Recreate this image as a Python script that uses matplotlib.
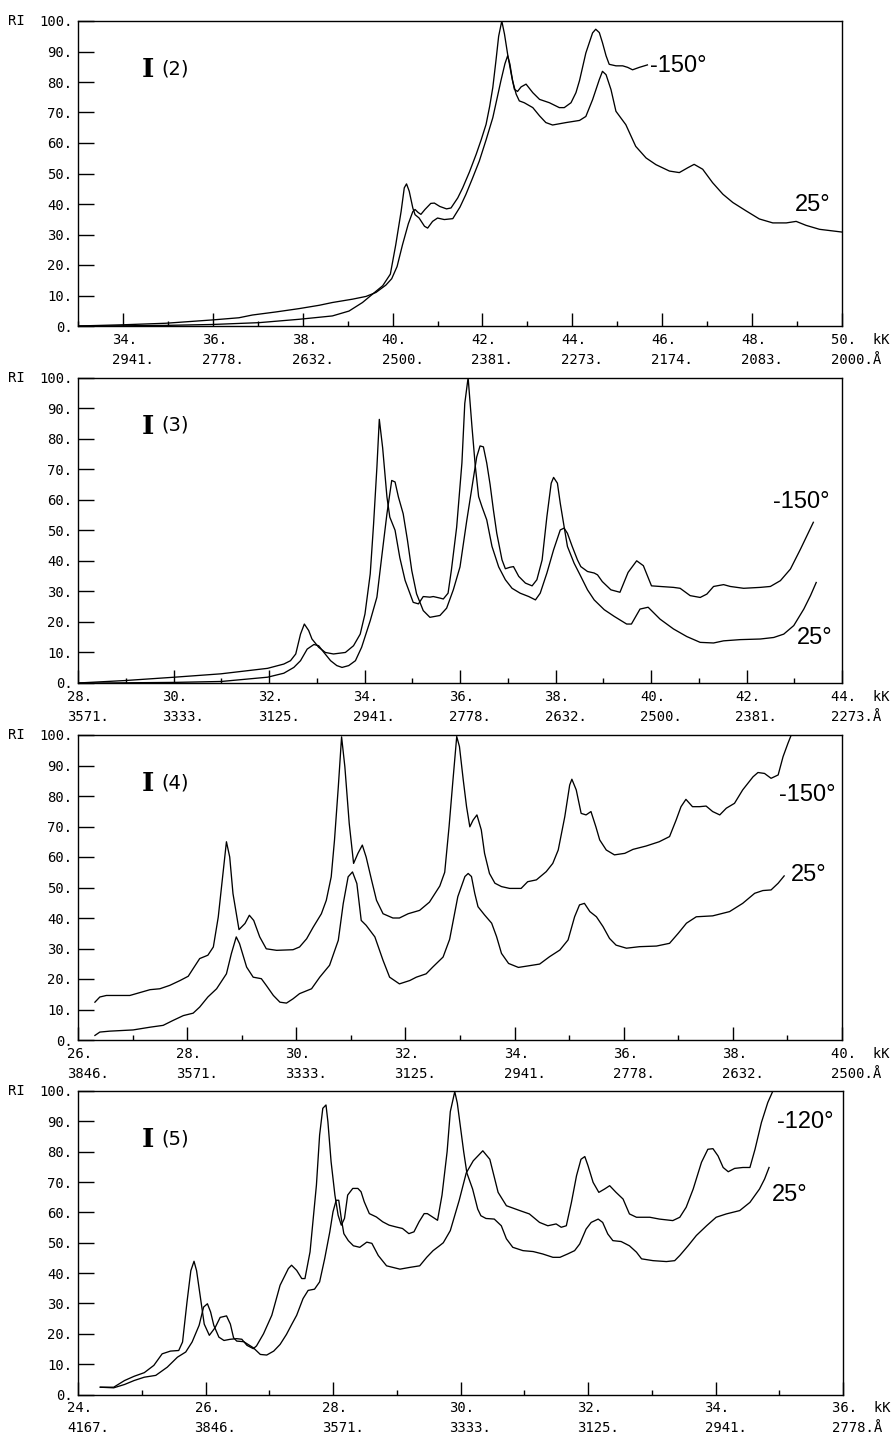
import matplotlib
matplotlib.use("Agg")
import matplotlib.pyplot as plt
import matplotlib.transforms as mtransforms

# ---- panel I(2) ----
p2_x_cold = [33.0, 34.0, 34.95, 36.0, 36.58, 36.88, 37.4, 37.92, 38.37, 38.66, 39.11, 39.41, 39.63, 39.85,
             39.98, 40.1, 40.22, 40.35, 40.45, 40.5, 40.57, 40.63, 40.72, 40.85, 40.93, 41.05, 41.2, 41.3,
             41.45, 41.56, 41.71, 41.86, 41.97, 42.08, 42.16, 42.23, 42.3, 42.36, 42.43, 42.49, 42.56, 42.64,
             42.71, 42.78, 42.86, 42.97, 43.12, 43.27, 43.49, 43.71, 43.82, 43.97, 44.08, 44.16, 44.3, 44.45,
             44.52, 44.6, 44.67, 44.75, 44.82, 44.97, 45.12, 45.23, 45.34, 45.49, 45.67]
p2_y_cold = [0.0, 0.4, 0.9, 2.0, 2.7, 3.6, 4.6, 5.7, 6.8, 7.7, 8.8, 9.7, 11.0, 13.4,
             15.5, 19.5, 26.6, 33.5, 37.5, 38.2, 37.2, 36.6, 38.2, 40.2, 40.3, 39.2, 38.4, 38.7,
             42.0, 45.3, 50.5, 56.3, 61.0, 66.1, 72.0, 78.2, 87.0, 95.0, 100.0, 95.7, 89.1, 82.6,
             77.6, 76.9, 78.4, 79.3, 76.5, 74.3, 73.2, 71.6, 71.6, 73.2, 76.5, 80.5, 89.5, 96.1,
             97.3, 96.2, 92.9, 88.6, 85.8, 85.3, 85.3, 84.8, 84.0, 84.8, 85.6]
p2_x_warm = [33.0, 33.47, 34.95, 35.99, 37.03, 37.92, 38.66, 39.03, 39.33, 39.55, 39.78, 39.95, 40.07, 40.19,
             40.26, 40.31, 40.37, 40.45, 40.5, 40.59, 40.71, 40.78, 40.89, 41.0, 41.15, 41.34, 41.5, 41.63,
             41.78, 41.93, 42.08, 42.23, 42.33, 42.41, 42.5, 42.56, 42.61, 42.67, 42.75, 42.82, 42.93, 43.12,
             43.27, 43.41, 43.56, 43.86, 44.16, 44.3, 44.45, 44.6, 44.67, 44.75, 44.86, 44.97, 45.19, 45.41,
             45.64, 45.86, 46.16, 46.38, 46.57, 46.71, 46.9, 47.12, 47.35, 47.57, 47.86, 48.16, 48.46, 48.76,
             48.98, 49.2, 49.5, 50.0]
p2_y_warm = [0.0, 0.0, 0.2, 0.5, 1.1, 2.2, 3.3, 4.9, 7.7, 10.4, 13.2, 17.0, 26.6, 37.6,
             45.3, 46.6, 44.2, 38.7, 36.5, 35.4, 32.7, 32.1, 34.3, 35.4, 34.9, 35.2, 39.0, 43.1,
             48.5, 54.1, 61.0, 68.3, 75.0, 80.4, 86.0, 88.6, 85.9, 80.4, 76.0, 73.8, 73.2, 71.6,
             68.9, 66.7, 65.9, 66.7, 67.4, 68.7, 74.2, 80.8, 83.5, 82.4, 77.5, 70.4, 66.0, 58.9,
             55.1, 52.9, 50.8, 50.3, 51.9, 53.0, 51.4, 47.0, 43.2, 40.5, 37.8, 35.1, 33.8, 33.8,
             34.3, 33.0, 31.7, 30.8]
p2_kk = [34, 36, 38, 40, 42, 44, 46, 48, 50]
p2_ang = ['2941.', '2778.', '2632.', '2500.', '2381.', '2273.', '2174.', '2083.', '2000.']

# ---- panel I(3) ----
p3_x_cold = [28.0, 28.98, 30.02, 30.99, 31.97, 32.31, 32.45, 32.56, 32.66, 32.74, 32.83, 32.9, 33.04, 33.18,
             33.35, 33.6, 33.77, 33.91, 34.01, 34.12, 34.19, 34.26, 34.31, 34.38, 34.47, 34.53, 34.64, 34.74,
             34.85, 35.02, 35.13, 35.23, 35.37, 35.44, 35.58, 35.65, 35.75, 35.82, 35.93, 36.04, 36.1, 36.17,
             36.25, 36.32, 36.39, 36.46, 36.56, 36.67, 36.81, 36.95, 37.09, 37.26, 37.44, 37.58, 37.68, 37.82,
             37.96, 38.1, 38.18, 38.25, 38.35, 38.46, 38.53, 38.67, 38.81, 38.88, 38.98, 39.16, 39.35, 39.52,
             39.7, 39.84, 40.01, 40.19, 40.47, 40.61, 40.82, 41.03, 41.17, 41.31, 41.52, 41.66, 41.94, 42.29,
             42.5, 42.71, 42.92, 43.13, 43.4]
p3_y_cold = [0.0, 0.8, 1.9, 3.0, 4.8, 6.2, 7.3, 9.5, 16.0, 19.3, 17.2, 14.4, 11.7, 10.0,
             9.5, 10.0, 12.2, 16.0, 22.6, 35.7, 52.0, 70.7, 86.3, 77.0, 60.9, 54.3, 50.0, 41.0,
             33.6, 26.4, 25.9, 28.3, 28.1, 28.3, 27.8, 27.5, 29.4, 37.0, 51.0, 72.0, 91.5, 100.0,
             84.0, 71.0, 61.0, 57.7, 53.4, 44.7, 38.0, 33.8, 31.0, 29.4, 28.3, 27.2, 29.4, 36.0,
             43.6, 50.1, 50.7, 49.0, 44.7, 40.3, 38.1, 36.5, 36.0, 35.4, 33.2, 30.5, 29.7, 36.2,
             40.0, 38.4, 31.8, 31.6, 31.3, 31.0, 28.6, 28.0, 29.1, 31.6, 32.2, 31.6, 31.0, 31.3,
             31.6, 33.5, 37.3, 43.8, 52.6]
p3_x_warm = [28.0, 28.49, 30.02, 31.0, 31.97, 32.31, 32.52, 32.66, 32.8, 32.94, 33.04, 33.15, 33.29, 33.42,
             33.53, 33.67, 33.81, 33.94, 34.12, 34.26, 34.36, 34.47, 34.57, 34.64, 34.71, 34.81, 34.9, 34.99,
             35.09, 35.23, 35.37, 35.58, 35.72, 35.86, 36.0, 36.14, 36.25, 36.35, 36.42, 36.49, 36.56, 36.63,
             36.7, 36.77, 36.88, 36.95, 37.05, 37.12, 37.23, 37.37, 37.51, 37.61, 37.72, 37.82, 37.91, 37.96,
             38.04, 38.1, 38.18, 38.25, 38.39, 38.53, 38.67, 38.81, 39.02, 39.23, 39.49, 39.59, 39.77, 39.94,
             40.19, 40.47, 40.75, 41.03, 41.31, 41.52, 41.87, 42.29, 42.57, 42.78, 42.99, 43.2, 43.34, 43.46]
p3_y_warm = [0.0, 0.0, 0.2, 0.5, 1.9, 3.2, 5.1, 7.3, 11.1, 12.6, 12.2, 10.0, 7.3, 5.7,
             5.1, 5.7, 7.3, 11.7, 20.4, 28.1, 41.2, 55.4, 66.3, 65.8, 60.9, 55.4, 46.7, 36.8,
             29.2, 23.7, 21.5, 22.1, 24.5, 30.5, 38.0, 53.0, 64.0, 74.0, 77.6, 77.3, 72.0, 65.0,
             56.6, 49.0, 40.3, 37.4, 37.9, 38.1, 34.9, 32.7, 31.8, 33.8, 40.3, 54.5, 65.4, 67.3,
             65.4, 58.8, 51.2, 44.7, 39.2, 34.9, 30.5, 27.2, 24.0, 21.8, 19.3, 19.3, 24.2, 24.8,
             20.9, 17.7, 15.2, 13.3, 13.1, 13.8, 14.2, 14.4, 14.9, 16.0, 18.8, 24.2, 28.6, 32.9]
p3_kk = [28, 30, 32, 34, 36, 38, 40, 42, 44]
p3_ang = ['3571.', '3333.', '3125.', '2941.', '2778.', '2632.', '2500.', '2381.', '2273.']

# ---- panel I(4) ----
p4_x_cold = [26.31, 26.4, 26.52, 26.95, 27.32, 27.5, 27.68, 27.87, 28.02, 28.11, 28.23, 28.38, 28.48, 28.57,
             28.65, 28.72, 28.78, 28.84, 28.95, 29.06, 29.14, 29.22, 29.33, 29.45, 29.64, 29.94, 30.06, 30.19,
             30.31, 30.46, 30.55, 30.64, 30.7, 30.77, 30.83, 30.89, 30.97, 31.05, 31.13, 31.21, 31.28, 31.38,
             31.47, 31.59, 31.77, 31.89, 32.05, 32.26, 32.44, 32.63, 32.72, 32.8, 32.87, 32.94, 32.99, 33.06,
             33.12, 33.18, 33.24, 33.31, 33.39, 33.45, 33.54, 33.64, 33.76, 33.91, 34.12, 34.24, 34.4, 34.58,
             34.7, 34.8, 34.92, 35.01, 35.05, 35.13, 35.22, 35.31, 35.4, 35.49, 35.56, 35.68, 35.83, 36.02,
             36.17, 36.41, 36.65, 36.84, 36.96, 37.05, 37.14, 37.26, 37.39, 37.51, 37.63, 37.76, 37.88, 38.03,
             38.18, 38.37, 38.46, 38.58, 38.7, 38.83, 38.92, 39.01, 39.07]
p4_y_cold = [12.4, 14.1, 14.6, 14.6, 16.5, 16.8, 17.9, 19.5, 20.9, 23.4, 26.7, 27.8, 30.5, 40.3,
             53.5, 65.0, 60.0, 48.0, 36.2, 38.2, 40.9, 39.2, 33.8, 29.9, 29.4, 29.6, 30.5, 33.2,
             37.0, 41.4, 45.8, 53.5, 65.5, 83.0, 99.4, 89.6, 71.0, 57.9, 61.2, 63.9, 60.0, 52.4,
             45.8, 41.4, 40.0, 40.0, 41.4, 42.5, 45.2, 50.5, 55.0, 70.0, 85.0, 99.5, 96.2, 85.2,
             76.5, 69.9, 72.1, 73.8, 68.9, 61.2, 54.6, 51.4, 50.3, 49.7, 49.7, 51.9, 52.5, 55.2,
             57.9, 62.3, 73.2, 83.6, 85.5, 82.0, 74.3, 73.8, 74.9, 69.9, 65.6, 62.3, 60.7, 61.2,
             62.5, 63.6, 65.0, 66.7, 72.1, 76.5, 78.9, 76.5, 76.5, 76.7, 74.9, 73.8, 76.0, 77.6,
             82.0, 86.3, 87.7, 87.4, 85.8, 86.9, 92.9, 97.3, 100.0]
p4_x_warm = [26.31, 26.4, 26.58, 27.01, 27.32, 27.56, 27.74, 27.93, 28.11, 28.23, 28.38, 28.54, 28.72, 28.81,
             28.9, 28.96, 29.09, 29.21, 29.36, 29.45, 29.58, 29.7, 29.82, 29.94, 30.06, 30.28, 30.43, 30.61,
             30.77, 30.86, 30.95, 31.03, 31.11, 31.19, 31.28, 31.44, 31.59, 31.71, 31.89, 32.08, 32.2, 32.38,
             32.5, 32.69, 32.81, 32.96, 33.09, 33.15, 33.21, 33.27, 33.33, 33.45, 33.58, 33.67, 33.76, 33.89,
             34.07, 34.25, 34.46, 34.64, 34.83, 34.98, 35.1, 35.19, 35.28, 35.38, 35.5, 35.62, 35.74, 35.86,
             36.05, 36.29, 36.6, 36.84, 37.0, 37.15, 37.33, 37.63, 37.94, 38.18, 38.4, 38.55, 38.7, 38.83,
             38.94]
p4_y_warm = [1.5, 2.6, 2.9, 3.3, 4.2, 4.8, 6.4, 8.0, 8.8, 10.8, 14.1, 16.8, 21.7, 28.3,
             33.8, 31.6, 23.9, 20.6, 20.1, 17.9, 14.6, 12.4, 12.1, 13.5, 15.2, 16.8, 20.6, 24.5,
             32.7, 44.7, 53.5, 55.1, 51.3, 39.2, 37.6, 33.8, 26.1, 20.6, 18.4, 19.5, 20.6, 21.7,
             23.9, 27.2, 33.0, 47.0, 53.6, 54.6, 53.6, 48.1, 43.7, 41.0, 38.3, 33.9, 28.4, 25.1,
             23.8, 24.3, 24.9, 27.3, 29.5, 32.8, 40.4, 44.3, 44.8, 42.1, 40.4, 37.2, 33.3, 31.1,
             30.1, 30.6, 30.8, 31.7, 35.0, 38.3, 40.4, 40.7, 42.1, 44.8, 48.1, 49.0, 49.2, 51.4,
             53.8]
p4_kk = [26, 28, 30, 32, 34, 36, 38, 40]
p4_ang = ['3846.', '3571.', '3333.', '3125.', '2941.', '2778.', '2632.', '2500.']

# ---- panel I(5) ----
p5_x_cold = [24.35, 24.56, 24.73, 24.88, 25.04, 25.19, 25.32, 25.45, 25.58, 25.64, 25.71, 25.77, 25.82, 25.86,
             25.92, 25.98, 26.06, 26.15, 26.23, 26.33, 26.39, 26.44, 26.49, 26.6, 26.75, 26.86, 26.96, 27.07,
             27.17, 27.27, 27.35, 27.43, 27.53, 27.61, 27.71, 27.79, 27.87, 27.95, 28.0, 28.05, 28.09, 28.13,
             28.17, 28.24, 28.32, 28.42, 28.53, 28.61, 28.71, 28.84, 29.05, 29.21, 29.36, 29.47, 29.57, 29.67,
             29.73, 29.84, 29.98, 30.09, 30.2, 30.35, 30.46, 30.59, 30.72, 30.93, 31.08, 31.24, 31.37, 31.5,
             31.58, 31.66, 31.74, 31.82, 31.89, 31.95, 32.0, 32.08, 32.17, 32.26, 32.34, 32.44, 32.55, 32.65,
             32.76, 32.97, 33.12, 33.33, 33.44, 33.54, 33.65, 33.78, 33.88, 33.96, 34.04, 34.12, 34.2, 34.3,
             34.43, 34.54, 34.62, 34.72, 34.82, 34.9]
p5_y_cold = [2.4, 2.4, 4.6, 6.0, 7.2, 9.6, 13.4, 14.3, 14.5, 17.3, 30.5, 40.8, 43.9, 40.8,
             32.0, 23.2, 19.5, 22.0, 25.4, 25.9, 23.2, 18.7, 17.6, 17.4, 15.4, 13.2, 13.0, 14.3,
             16.5, 19.8, 23.0, 26.1, 31.6, 34.3, 34.7, 37.1, 44.8, 53.6, 60.2, 64.0, 64.0, 58.0,
             53.0, 50.7, 49.0, 48.5, 50.2, 49.8, 45.8, 42.4, 41.3, 41.9, 42.4, 45.2, 47.4, 49.0,
             50.0, 54.0, 64.0, 73.0, 77.0, 80.3, 77.5, 66.6, 62.2, 60.6, 59.5, 56.7, 55.6, 56.2,
             55.1, 55.6, 63.3, 72.1, 77.5, 78.4, 75.4, 69.9, 66.6, 67.7, 68.8, 66.6, 64.4, 59.5,
             58.4, 58.4, 57.8, 57.3, 58.4, 61.7, 67.7, 76.5, 80.8, 81.0, 78.6, 74.8, 73.4, 74.5,
             74.8, 74.8, 80.8, 89.6, 96.2, 100.0]
p5_x_warm = [24.35, 24.56, 24.73, 24.88, 25.04, 25.22, 25.4, 25.56, 25.69, 25.79, 25.9, 25.97, 26.03, 26.08,
             26.13, 26.21, 26.29, 26.39, 26.49, 26.57, 26.65, 26.75, 26.8, 26.91, 27.04, 27.17, 27.3, 27.35,
             27.43, 27.51, 27.56, 27.64, 27.69, 27.74, 27.79, 27.84, 27.89, 27.92, 27.97, 28.03, 28.08, 28.13,
             28.18, 28.23, 28.31, 28.39, 28.44, 28.49, 28.57, 28.68, 28.78, 28.88, 28.99, 29.09, 29.19, 29.27,
             29.35, 29.43, 29.48, 29.56, 29.64, 29.71, 29.79, 29.84, 29.91, 29.95, 30.0, 30.05, 30.1, 30.19,
             30.27, 30.32, 30.4, 30.53, 30.64, 30.72, 30.82, 30.98, 31.14, 31.29, 31.45, 31.56, 31.68, 31.79,
             31.87, 31.97, 32.05, 32.16, 32.23, 32.31, 32.39, 32.52, 32.65, 32.76, 32.84, 33.02, 33.23, 33.36,
             33.44, 33.57, 33.7, 33.86, 34.01, 34.17, 34.38, 34.54, 34.69, 34.77, 34.84]
p5_y_warm = [2.4, 2.2, 3.3, 4.6, 5.7, 6.3, 9.0, 12.3, 14.0, 17.3, 22.8, 28.8, 29.9, 27.2,
             22.8, 18.9, 17.8, 18.2, 18.4, 18.2, 16.2, 15.1, 16.0, 20.0, 26.1, 36.0, 41.5, 42.6,
             40.9, 38.2, 38.2, 47.0, 58.0, 69.0, 85.5, 94.3, 95.4, 89.9, 76.7, 65.7, 59.1, 55.8,
             58.0, 65.7, 67.9, 67.9, 66.8, 63.5, 59.6, 58.5, 56.9, 55.8, 55.2, 54.7, 53.0, 53.6,
             56.9, 59.6, 59.6, 58.5, 57.4, 65.7, 80.0, 93.2, 99.8, 96.0, 88.0, 80.0, 73.0, 67.7,
             61.1, 58.9, 58.0, 57.8, 55.6, 51.3, 48.5, 47.4, 47.1, 46.3, 45.2, 45.2, 46.3, 47.4,
             49.6, 54.5, 56.7, 57.8, 56.7, 52.9, 50.7, 50.4, 49.0, 46.9, 44.7, 44.1, 43.8, 44.1,
             45.8, 49.0, 52.4, 55.6, 58.4, 59.5, 60.6, 63.3, 67.7, 71.0, 74.8]
p5_kk = [24, 26, 28, 30, 32, 34, 36]
p5_ang = ['4167.', '3846.', '3571.', '3333.', '3125.', '2941.', '2778.']

ri_ticks = [0, 10, 20, 30, 40, 50, 60, 70, 80, 90, 100]

W, H = 893, 1437
fig = plt.figure(figsize=(W / 100, H / 100), dpi=100)
MONO = 'DejaVu Sans Mono'
LAB = ['Liberation Sans', 'DejaVu Sans']


def px_rect(l, t, r, b):
    return [l / W, 1 - b / H, (r - l) / W, (b - t) / H]


def panel(rect, xlim, curves, kk, ang, num, temps):
    ax = fig.add_axes(px_rect(*rect))
    for xs, ys in curves:
        ax.plot(xs, ys, color='black', lw=0.95)
    ax.set_xlim(*xlim)
    ax.set_ylim(0, 100)
    for s in ax.spines.values():
        s.set_linewidth(1.0)

    ax.set_xticks(range(xlim[0] + (xlim[0] % 2), xlim[1] + 1, 2))
    ax.set_xticks(range(xlim[0] + 1 - (xlim[0] % 2), xlim[1], 2), minor=True)
    ax.set_xticklabels([])
    ax.tick_params(axis='x', which='major', direction='in', length=9.5, width=1.0)
    ax.tick_params(axis='x', which='minor', direction='in', length=3.5, width=1.0)
    ax.set_yticks(ri_ticks)
    ax.set_yticklabels([f'{v}.' for v in ri_ticks], fontsize=10, family=MONO)
    ax.tick_params(axis='y', direction='in', length=11.5, width=1.0, pad=4)

    base = mtransforms.blended_transform_factory(ax.transData, ax.transAxes)
    row1 = mtransforms.offset_copy(base, fig=fig, x=-11, y=-14, units='dots')
    row2 = mtransforms.offset_copy(base, fig=fig, x=-11, y=-34, units='dots')
    for i, (k, a) in enumerate(zip(kk, ang)):
        last = i == len(kk) - 1
        ax.text(k, 0, f'{k}.' + ('  kK' if last else ''), transform=row1,
                ha='left', va='center', fontsize=10, family=MONO, clip_on=False)
        ax.text(k, 0, a + ('Å' if last else ''), transform=row2,
                ha='left', va='center', fontsize=10, family=MONO, clip_on=False)

    ri = mtransforms.offset_copy(ax.transAxes, fig=fig, x=-70, y=0, units='dots')
    ax.text(0, 1, 'RI', transform=ri, ha='left', va='center', fontsize=10, family=MONO)

    ax.text(0.083, 0.84, 'I', transform=ax.transAxes, ha='left', va='center',
            fontsize=19, family='DejaVu Serif', weight='bold')
    num_tr = mtransforms.offset_copy(ax.transAxes, fig=fig, x=20, y=1, units='dots')
    ax.text(0.083, 0.84, f'({num})', transform=num_tr, ha='left', va='center',
            fontsize=14, family='DejaVu Sans')

    for txt, tx, ty in temps:
        ax.text(tx, ty, txt, ha='left', va='center', fontsize=17, family=LAB)
    return ax


panel((78, 21, 842, 326), (33, 50), [(p2_x_cold, p2_y_cold), (p2_x_warm, p2_y_warm)],
      p2_kk, p2_ang, 2, [('-150°', 45.73, 85.2), ('25°', 48.95, 39.7)])
panel((78, 377.5, 842, 683), (28, 44), [(p3_x_cold, p3_y_cold), (p3_x_warm, p3_y_warm)],
      p3_kk, p3_ang, 3, [('-150°', 42.55, 59.2), ('25°', 43.06, 14.7)])
panel((78, 735, 842, 1040), (26, 40), [(p4_x_cold, p4_y_cold), (p4_x_warm, p4_y_warm)],
      p4_kk, p4_ang, 4, [('-150°', 38.85, 80.3), ('25°', 39.07, 54.1)])
panel((78, 1091, 843, 1394.5), (24, 36), [(p5_x_cold, p5_y_cold), (p5_x_warm, p5_y_warm)],
      p5_kk, p5_ang, 5, [('-120°', 34.96, 89.8), ('25°', 34.89, 65.7)])

fig.savefig('out.png', dpi=100)
